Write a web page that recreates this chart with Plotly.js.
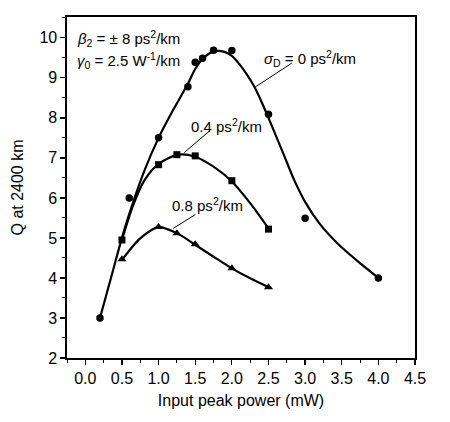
<!DOCTYPE html>
<html>
<head>
<meta charset="utf-8">
<script src="https://cdn.plot.ly/plotly-3.0.1.min.js"></script>
<style>html,body{margin:0;padding:0;background:#fff;}#chart{width:450px;height:422px;}</style>
</head>
<body>
<div id="chart"></div>
<script>
// Measured points
const x0 = [0.2, 0.6, 1.0, 1.4, 1.5, 1.6, 1.75, 2.0, 2.5, 3.0, 4.0];
const q0 = [3.0, 6.0, 7.5, 8.78, 9.39, 9.49, 9.69, 9.68, 8.09, 5.49, 4.0];
const x04 = [0.5, 1.0, 1.25, 1.5, 2.0, 2.5];
const q04 = [4.95, 6.83, 7.08, 7.05, 6.43, 5.22];
const x08 = [0.5, 1.0, 1.25, 1.5, 2.0, 2.5];
const q08 = [4.47, 5.27, 5.12, 4.84, 4.24, 3.77];

// Fitted curves
const cx0 = [0.2, 0.35, 0.5, 0.6, 0.8, 1.0, 1.2, 1.4, 1.5, 1.6, 1.75, 1.9, 2.0, 2.1, 2.2, 2.3, 2.4, 2.5, 2.7, 2.85, 3.0, 3.2, 3.45, 3.75, 4.0];
const cq0 = [3.0, 4.0, 5.0, 5.6, 6.65, 7.5, 8.2, 8.85, 9.22, 9.47, 9.66, 9.65, 9.55, 9.35, 9.1, 8.8, 8.42, 8.0, 7.12, 6.45, 5.9, 5.35, 4.85, 4.37, 4.0];
const cx04 = [0.5, 0.65, 0.8, 1.0, 1.27, 1.5, 1.75, 2.0, 2.25, 2.5];
const cq04 = [4.95, 5.8, 6.42, 6.85, 7.08, 7.03, 6.78, 6.41, 5.87, 5.24];
const cx08 = [0.5, 0.75, 1.0, 1.25, 1.5, 1.75, 2.0, 2.25, 2.5];
const cq08 = [4.45, 4.99, 5.27, 5.12, 4.83, 4.53, 4.24, 3.99, 3.77];

const xTicks = [0, 0.5, 1, 1.5, 2, 2.5, 3, 3.5, 4, 4.5];
const xTickText = ['0.0','0.5','1.0','1.5','2.0','2.5','3.0','3.5','4.0','4.5'];
const yTicks = [2,3,4,5,6,7,8,9,10];

const FONT = 'Liberation Sans, Arial, sans-serif';
const lineStyle = {color:'#000', width:2.2, shape:'spline', smoothing:0.8};

const traces = [
  {x: cx0, y: cq0, mode:'lines', line: lineStyle, hoverinfo:'skip'},
  {x: cx04, y: cq04, mode:'lines', line: lineStyle, hoverinfo:'skip'},
  {x: cx08, y: cq08, mode:'lines', line: lineStyle, hoverinfo:'skip'},
  {x: x0, y: q0, mode:'markers', marker:{symbol:'circle', size:7.5, color:'#000'}},
  {x: x04, y: q04, mode:'markers', marker:{symbol:'square', size:7, color:'#000'}},
  {x: x08, y: q08, mode:'markers', marker:{symbol:'triangle-up', size:8, color:'#000'}}
];

const annFont = {family: FONT, size: 15, color:'#000'};
const axFont = {family: FONT, size: 16, color:'#000'};
const layout = {
  width: 450, height: 422,
  margin: {l: 67, r: 35, t: 17, b: 64},
  paper_bgcolor:'#fff', plot_bgcolor:'#fff',
  showlegend: false,
  font: {family: FONT, size: 16, color:'#000'},
  xaxis: {
    range: [-0.25, 4.5],
    tickvals: xTicks, ticktext: xTickText,
    ticks:'outside', ticklen:5, tickwidth:1.3, tickcolor:'#000',
    minor: {dtick: 0.25, tick0: 0, ticks:'outside', ticklen:3, tickwidth:1, tickcolor:'#000'},
    showline:true, linecolor:'#000', linewidth:1.6, mirror:true,
    showgrid:false, zeroline:false,
    tickfont: axFont,
    title:{text:'Input peak power (mW)', font: axFont, standoff: 9}
  },
  yaxis: {
    range: [2, 10.52],
    tickvals: yTicks,
    ticks:'outside', ticklen:5, tickwidth:1.3, tickcolor:'#000',
    minor: {dtick: 0.5, tick0: 0, ticks:'outside', ticklen:3, tickwidth:1, tickcolor:'#000'},
    showline:true, linecolor:'#000', linewidth:1.6, mirror:true,
    showgrid:false, zeroline:false,
    tickfont: axFont,
    title:{text:'Q at 2400 km', font: axFont, standoff: 12}
  },
  annotations: [
    {x:-0.14, y:9.99, xref:'x', yref:'y', xanchor:'left', yanchor:'middle', showarrow:false,
     text:'<i>β</i><sub>2</sub> = ± 8 ps<sup>2</sup>/km', font: annFont},
    {x:-0.14, y:9.43, xref:'x', yref:'y', xanchor:'left', yanchor:'middle', showarrow:false,
     text:'<i>γ</i><sub>0</sub> = 2.5 W<sup>-1</sup>/km', font: annFont},
    {x:2.41, y:9.49, xref:'x', yref:'y', xanchor:'left', yanchor:'middle', showarrow:false,
     text:'<i>σ</i><sub>D</sub> = 0 ps<sup>2</sup>/km', font: annFont},
    {x:1.41, y:7.8, xref:'x', yref:'y', xanchor:'left', yanchor:'middle', showarrow:false,
     text:'0.4 ps<sup>2</sup>/km', font: annFont},
    {x:1.16, y:5.83, xref:'x', yref:'y', xanchor:'left', yanchor:'middle', showarrow:false,
     text:'0.8 ps<sup>2</sup>/km', font: annFont}
  ],
  shapes: [
    {type:'line', xref:'x', yref:'y', x0:2.82, y0:9.37, x1:2.32, y1:8.77, line:{color:'#000', width:1}},
    {type:'line', xref:'x', yref:'y', x0:1.70, y0:7.68, x1:1.35, y1:7.13, line:{color:'#000', width:1}},
    {type:'line', xref:'x', yref:'y', x0:1.50, y0:5.58, x1:1.20, y1:5.24, line:{color:'#000', width:1}}
  ]
};

Plotly.newPlot('chart', traces, layout, {displayModeBar:false, staticPlot:true});
</script>
</body>
</html>
